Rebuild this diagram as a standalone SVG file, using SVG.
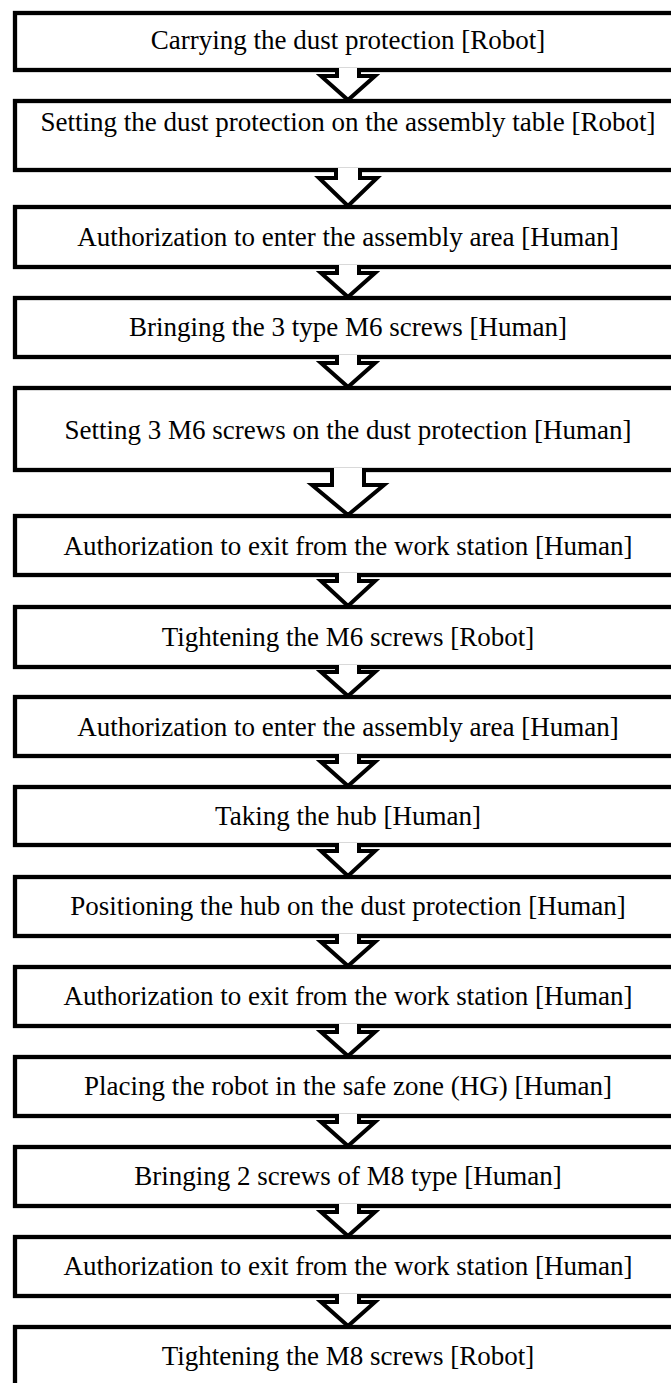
<svg xmlns="http://www.w3.org/2000/svg" width="671" height="1383" viewBox="0 0 671 1383">
<style>
.box{fill:#fff;stroke:#000;stroke-width:4.3}
.arr{fill:#fff;stroke:#000;stroke-width:4;stroke-miterlimit:10}
text{font-family:"Liberation Serif","Times New Roman",serif;font-size:27px;fill:#000;text-anchor:middle}
</style>
<rect width="671" height="1383" fill="#fff"/>
<g id="n1"><rect class="box" x="15" y="13" width="666" height="57"/><text x="348" y="49">Carrying the dust protection [Robot]</text></g>
<g id="n2"><rect class="box" x="15" y="101" width="666" height="69"/><text x="348" y="131">Setting the dust protection on the assembly table [Robot]</text></g>
<g id="n3"><rect class="box" x="15" y="207" width="666" height="60"/><text x="348" y="246">Authorization to enter the assembly area [Human]</text></g>
<g id="n4"><rect class="box" x="15" y="298" width="666" height="59"/><text x="348" y="336">Bringing the 3 type M6 screws [Human]</text></g>
<g id="n5"><rect class="box" x="15" y="388" width="666" height="82"/><text x="348" y="439">Setting 3 M6 screws on the dust protection [Human]</text></g>
<g id="n6"><rect class="box" x="15" y="516" width="666" height="59"/><text x="348" y="555">Authorization to exit from the work station [Human]</text></g>
<g id="n7"><rect class="box" x="15" y="607" width="666" height="60"/><text x="348" y="646">Tightening the M6 screws [Robot]</text></g>
<g id="n8"><rect class="box" x="15" y="697" width="666" height="59"/><text x="348" y="736">Authorization to enter the assembly area [Human]</text></g>
<g id="n9"><rect class="box" x="15" y="787" width="666" height="58"/><text x="348" y="825">Taking the hub [Human]</text></g>
<g id="n10"><rect class="box" x="15" y="877" width="666" height="59"/><text x="348" y="915">Positioning the hub on the dust protection [Human]</text></g>
<g id="n11"><rect class="box" x="15" y="967" width="666" height="59"/><text x="348" y="1005">Authorization to exit from the work station [Human]</text></g>
<g id="n12"><rect class="box" x="15" y="1057" width="666" height="59"/><text x="348" y="1095">Placing the robot in the safe zone (HG) [Human]</text></g>
<g id="n13"><rect class="box" x="15" y="1147" width="666" height="59"/><text x="348" y="1185">Bringing 2 screws of M8 type [Human]</text></g>
<g id="n14"><rect class="box" x="15" y="1237" width="666" height="59"/><text x="348" y="1275">Authorization to exit from the work station [Human]</text></g>
<g id="n15"><rect class="box" x="15" y="1327" width="666" height="80"/><text x="348" y="1365">Tightening the M8 screws [Robot]</text></g>
<g id="connectors">
<path class="arr" d="M337 68 V76 H321 L348 100 L375 76 H359 V68"/>
<path class="arr" d="M336 168 V178 H319 L348 206 L377 178 H360 V168"/>
<path class="arr" d="M337 265 V273 H321 L348 297 L375 273 H359 V265"/>
<path class="arr" d="M337 355 V363 H321 L348 387 L375 363 H359 V355"/>
<path class="arr" d="M332 468 V485 H312 L348 515 L384 485 H364 V468"/>
<path class="arr" d="M337 573 V581 H321 L348 606 L375 581 H359 V573"/>
<path class="arr" d="M337 665 V672 H321 L348 696 L375 672 H359 V665"/>
<path class="arr" d="M337 754 V762 H321 L348 786 L375 762 H359 V754"/>
<path class="arr" d="M337 843 V851 H321 L348 876 L375 851 H359 V843"/>
<path class="arr" d="M337 934 V942 H321 L348 966 L375 942 H359 V934"/>
<path class="arr" d="M337 1024 V1032 H321 L348 1056 L375 1032 H359 V1024"/>
<path class="arr" d="M337 1114 V1122 H321 L348 1146 L375 1122 H359 V1114"/>
<path class="arr" d="M337 1204 V1212 H321 L348 1236 L375 1212 H359 V1204"/>
<path class="arr" d="M337 1294 V1302 H321 L348 1326 L375 1302 H359 V1294"/>
</g>
</svg>
